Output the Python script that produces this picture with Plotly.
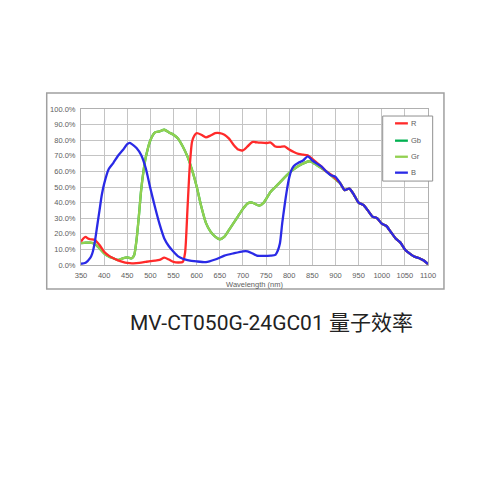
import plotly.graph_objects as go

# ---------------- data ----------------
series_names = ["R", "Gb", "Gr", "B"]
series_colors = {"R": "#ff2a2a", "Gb": "#00b050", "Gr": "#92d050", "B": "#2a2ae6"}

tail_wl = [910, 920, 930, 940, 950, 960, 970, 980, 990, 1000, 1010, 1020,
           1030, 1040, 1050, 1060, 1070, 1080, 1090, 1100]
tail_qe = [52.5, 48, 49, 45, 40, 38.5, 35, 31, 30, 26.5, 25, 21,
           17, 14.5, 10, 7.5, 5.5, 4.5, 3, 0.6]

r_wl = [350, 355, 360, 365, 370, 380, 390, 400, 410, 420, 430, 440, 450, 460,
        470, 480, 490, 500, 510, 520, 530, 540, 550, 560, 570, 575, 580, 585,
        590, 595, 600, 610, 620, 630, 640, 650, 660, 670, 680, 690, 700, 710,
        720, 735, 750, 760, 770, 780, 790, 800, 810, 820, 830, 840, 850, 860,
        870, 880, 890, 900]
r_qe = [15, 17, 18, 17, 16.5, 16, 12.8, 8.5, 6, 4.3, 3, 2, 1.3, 1,
        1.2, 1.5, 2, 2.5, 2.8, 3.3, 4.7, 3.5, 2, 1.6, 2, 8, 35, 63,
        79, 83, 84.5, 83.5, 81.8, 83, 84.5, 84.5, 83.5, 81, 77, 74, 73.5, 76,
        78.8, 78.5, 78.2, 78.5, 76, 75.7, 76, 74, 72.4, 71.2, 70.7, 70.3, 68, 65.5,
        63, 60, 58, 55.5]

gr_wl = [350, 360, 370, 380, 390, 400, 410, 420, 430, 440, 450, 460, 465, 470,
         475, 480, 485, 490, 500, 510, 520, 530, 540, 550, 560, 570, 580, 590,
         600, 610, 620, 630, 640, 650, 660, 670, 680, 690, 700, 710, 720, 735,
         745, 760, 770, 780, 800, 820, 845, 860, 880, 900]
gr_qe = [14, 14.3, 14.3, 13.5, 10.7, 7.5, 5.5, 4.3, 3.2, 4.3, 4.9, 4.3, 6.4, 16,
         31, 48, 60, 69, 80, 85, 85.7, 86.7, 85, 83.5, 81, 76, 69.6, 61,
         50.3, 37.5, 27, 21.4, 18.2, 16.5, 18.2, 22.5, 27, 31.5, 36, 39.5, 40, 38,
         40, 47, 50, 53, 59, 63.5, 66.5, 64, 60, 55]

gb_wl = list(gr_wl)
gb_qe = list(gr_qe)

b_wl = [350, 360, 370, 375, 380, 385, 390, 395, 400, 410, 420, 430, 440, 450,
        455, 460, 470, 480, 490, 500, 510, 520, 530, 540, 550, 560, 570, 580,
        600, 620, 640, 660, 680, 700, 710, 720, 730, 745, 760, 770, 775, 780,
        785, 790, 795, 800, 805, 810, 820, 830, 840, 850, 860, 870, 880, 890, 900]
b_qe = [0.8, 1.5, 4.5, 8, 15, 25, 35, 45, 52, 61.5, 65.5, 70, 73.5, 77.5,
        78.3, 77.5, 75, 70.5, 62, 49, 37, 26, 17, 12, 8.5, 5.5, 4, 3.2,
        2.3, 1.8, 3.5, 6, 7.5, 8.8, 8.8, 7.5, 6, 5.8, 6, 6.5, 9, 14,
        27, 38, 48, 56, 61, 63.5, 65.5, 67, 69.6, 67, 65, 63, 60, 57.5, 56.5]

series_data = {
    "R": (r_wl + tail_wl, r_qe + tail_qe),
    "Gb": (gb_wl + tail_wl, gb_qe + tail_qe),
    "Gr": (gr_wl + tail_wl, gr_qe + tail_qe),
    "B": (b_wl + tail_wl, b_qe + tail_qe),
}

x_ticks = list(range(350, 1101, 50))
y_ticks = list(range(0, 101, 10))
x_title = "Wavelength (nm)"
chart_title = "MV-CT050G-24GC01 量子效率"

# ---------------- figure ----------------
fig = go.Figure()
for name in ["Gb", "Gr", "R", "B"]:
    wl, qe = series_data[name]
    fig.add_trace(go.Scatter(
        x=wl, y=qe, mode="lines", name=name,
        line=dict(color=series_colors[name], width=2.3, shape="spline", smoothing=0.6),
        showlegend=False, hoverinfo="skip",
    ))

tick_font = dict(family="Liberation Sans, Arial, sans-serif", size=7.5, color="#606060")

fig.update_layout(
    width=500, height=500,
    margin=dict(l=73, r=80, t=101, b=243),
    paper_bgcolor="white", plot_bgcolor="white",
    showlegend=False,
)
fig.update_xaxes(
    range=[350, 1100], tickvals=x_ticks, ticktext=[str(v) for v in x_ticks],
    showgrid=True, gridcolor="#c4c4c4", gridwidth=1,
    showline=True, linecolor="#b0b0b0", linewidth=1, mirror=True,
    zeroline=False, ticks="outside", ticklen=3, tickcolor="rgba(0,0,0,0)",
    tickfont=tick_font,
    title=dict(text=x_title, font=tick_font, standoff=2),
)
fig.update_yaxes(
    range=[0, 100], tickvals=y_ticks, ticktext=[f"{v:.1f}%" for v in y_ticks],
    showgrid=True, gridcolor="#c4c4c4", gridwidth=1,
    showline=True, linecolor="#b0b0b0", linewidth=1, mirror=True,
    zeroline=False, ticks="outside", ticklen=3, tickcolor="rgba(0,0,0,0)",
    tickfont=tick_font,
)

# outer frame of the chart picture
fig.add_shape(type="rect", xref="paper", yref="paper",
              x0=-0.0988, x1=1.046, y0=-0.1538, y1=1.1026,
              line=dict(color="#a0a0a0", width=1.5), fillcolor="rgba(0,0,0,0)", layer="below")

# faint mark at the top-left edge
fig.add_shape(type="line", xref="paper", yref="paper",
              x0=-0.2305, x1=-0.2305, y0=(265 - 47) / 156, y1=(265 - 75) / 156,
              line=dict(color="#dddddd", width=1.5))

# legend (drawn manually to match the short line samples)
fig.add_shape(type="rect", xref="paper", yref="paper",
              x0=0.8695, x1=1.0135, y0=0.538, y1=0.955,
              line=dict(color="#909090", width=1), fillcolor="white", layer="above")
leg_y = [0.908, 0.797, 0.694, 0.592]
for name, yy in zip(series_names, leg_y):
    fig.add_shape(type="line", xref="paper", yref="paper",
                  x0=0.905, x1=0.942, y0=yy, y1=yy,
                  line=dict(color=series_colors[name], width=2.3), layer="above")
    fig.add_annotation(x=0.946, y=yy, xref="paper", yref="paper", text=name,
                       showarrow=False, xanchor="left", yanchor="middle",
                       font=tick_font)

fig.add_annotation(x=0.549, y=-0.372, xref="paper", yref="paper", text=chart_title,
                   showarrow=False, xanchor="center", yanchor="middle",
                   font=dict(family="Roboto, Noto Sans CJK SC, sans-serif", size=21, color="#222222"))

fig.write_html("out.html")
